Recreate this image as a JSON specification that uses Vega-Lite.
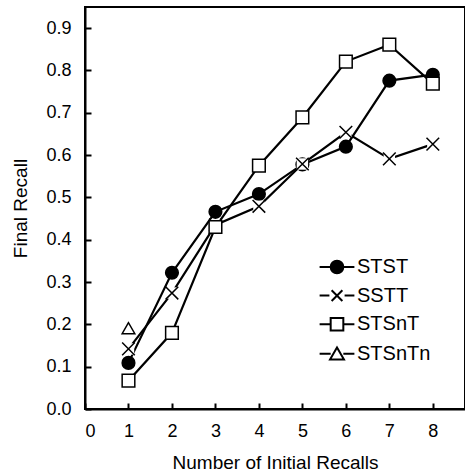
{
  "$schema": "https://vega.github.io/schema/vega-lite/v6.json",
  "width": 380,
  "height": 402,
  "autosize": {"type": "none"},
  "padding": {"left": 85, "top": 7, "right": 0, "bottom": 66},
  "background": "white",
  "config": {
    "view": {"stroke": "black", "strokeWidth": 2},
    "axis": {
      "grid": false,
      "zindex": 1,
      "ticks": true,
      "domainColor": "black",
      "domainWidth": 2,
      "tickColor": "black",
      "tickWidth": 2,
      "tickSize": -6,
      "tickOpacity": 1,
      "labelFont": "Liberation Sans",
      "labelFontSize": 18,
      "labelColor": "black",
      "titleFont": "Liberation Sans",
      "titleFontSize": 19,
      "titleFontWeight": "normal",
      "titleColor": "black"
    }
  },
  "data": {
    "values": [
      {"series": "STST", "n": 1, "recall": 0.109},
      {"series": "STST", "n": 2, "recall": 0.322},
      {"series": "STST", "n": 3, "recall": 0.466},
      {"series": "STST", "n": 4, "recall": 0.508},
      {"series": "STST", "n": 5, "recall": 0.578},
      {"series": "STST", "n": 6, "recall": 0.62},
      {"series": "STST", "n": 7, "recall": 0.776},
      {"series": "STST", "n": 8, "recall": 0.79},
      {"series": "SSTT", "n": 1, "recall": 0.142},
      {"series": "SSTT", "n": 2, "recall": 0.274},
      {"series": "SSTT", "n": 3, "recall": 0.435},
      {"series": "SSTT", "n": 4, "recall": 0.479},
      {"series": "SSTT", "n": 5, "recall": 0.579},
      {"series": "SSTT", "n": 6, "recall": 0.654},
      {"series": "SSTT", "n": 7, "recall": 0.591},
      {"series": "SSTT", "n": 8, "recall": 0.626},
      {"series": "STSnT", "n": 1, "recall": 0.067},
      {"series": "STSnT", "n": 2, "recall": 0.18},
      {"series": "STSnT", "n": 3, "recall": 0.43},
      {"series": "STSnT", "n": 4, "recall": 0.575},
      {"series": "STSnT", "n": 5, "recall": 0.689},
      {"series": "STSnT", "n": 6, "recall": 0.821},
      {"series": "STSnT", "n": 7, "recall": 0.861},
      {"series": "STSnT", "n": 8, "recall": 0.769},
      {"series": "STSnTn", "n": 1, "recall": 0.191}
    ]
  },
  "encoding": {
    "x": {
      "field": "n", "type": "quantitative",
      "scale": {"domain": [0, 8.74], "nice": false, "zero": false},
      "axis": {"values": [0, 1, 2, 3, 4, 5, 6, 7, 8], "title": "Number of Initial Recalls", "labelPadding": 19, "titlePadding": 13}
    },
    "y": {
      "field": "recall", "type": "quantitative",
      "scale": {"domain": [0, 0.95], "nice": false},
      "axis": {"values": [0, 0.1, 0.2, 0.3, 0.4, 0.5, 0.6, 0.7, 0.8, 0.9], "format": ".1f", "title": "Final Recall", "labelPadding": 20, "titlePadding": 15}
    }
  },
  "layer": [
    {
      "mark": {"type": "line", "color": "black", "strokeWidth": 2.2},
      "encoding": {"detail": {"field": "series"}}
    },
    {
      "mark": {"type": "point", "strokeWidth": 2, "opacity": 0, "size": 160},
      "encoding": {
        "shape": {"field": "series", "type": "nominal",
          "scale": {"domain": ["STST", "SSTT", "STSnT", "STSnTn"], "range": [
            "M-2.75,0H2.75M-1,0A1,1,0,1,0,1,0A1,1,0,1,0,-1,0Z",
            "M-2.75,0H-1.2M1.2,0H2.75M-0.85,-0.85L0.85,0.85M-0.85,0.85L0.85,-0.85",
            "M-2.75,0H-1M1,0H2.75M-1,-1H1V1H-1Z",
            "M-2.75,0H-1M1,0H2.75M0,-1L1.1,0.9H-1.1Z"
          ]},
          "legend": {
            "title": null,
            "orient": "none",
            "legendX": 242,
            "legendY": 250,
            "padding": 0,
            "symbolSize": 160,
            "symbolOpacity": 1,
            "symbolStrokeWidth": 2,
            "labelFont": "Liberation Sans",
            "labelFontSize": 20,
            "labelColor": "black",
            "labelOffset": 10,
            "rowPadding": 7.6
          }
        },
        "fill": {"field": "series", "type": "nominal",
          "scale": {"domain": ["STST", "SSTT", "STSnT", "STSnTn"], "range": ["black", "white", "white", "white"]},
          "legend": {
            "title": null,
            "orient": "none",
            "legendX": 242,
            "legendY": 250,
            "padding": 0,
            "symbolSize": 160,
            "symbolOpacity": 1,
            "symbolStrokeWidth": 2,
            "labelFont": "Liberation Sans",
            "labelFontSize": 20,
            "labelColor": "black",
            "labelOffset": 10,
            "rowPadding": 7.6
          }
        },
        "stroke": {"field": "series", "type": "nominal",
          "scale": {"domain": ["STST", "SSTT", "STSnT", "STSnTn"], "range": ["black", "black", "black", "black"]},
          "legend": {
            "title": null,
            "orient": "none",
            "legendX": 242,
            "legendY": 250,
            "padding": 0,
            "symbolSize": 160,
            "symbolOpacity": 1,
            "symbolStrokeWidth": 2,
            "labelFont": "Liberation Sans",
            "labelFontSize": 20,
            "labelColor": "black",
            "labelOffset": 10,
            "rowPadding": 7.6
          }
        }
      }
    },
    {
      "transform": [{"filter": "datum.series === 'STST'"}],
      "mark": {"type": "point", "shape": "circle", "fill": "black", "stroke": "black", "strokeWidth": 1.5, "opacity": 1, "size": 160},
      "encoding": {}
    },
    {
      "transform": [{"filter": "datum.series === 'SSTT'"}],
      "mark": {"type": "point", "shape": "square", "fill": "white", "strokeWidth": 0, "opacity": 1, "size": 130},
      "encoding": {}
    },
    {
      "transform": [{"filter": "datum.series === 'SSTT'"}],
      "mark": {"type": "point", "shape": "M-1,-1L1,1M-1,1L1,-1", "fill": "white", "stroke": "black", "strokeWidth": 1.5, "opacity": 1, "size": 160},
      "encoding": {}
    },
    {
      "transform": [{"filter": "datum.series === 'STSnT'"}],
      "mark": {"type": "point", "shape": "square", "fill": "white", "stroke": "black", "strokeWidth": 1.5, "opacity": 1, "size": 160},
      "encoding": {}
    },
    {
      "transform": [{"filter": "datum.series === 'STSnTn'"}],
      "mark": {"type": "point", "shape": "triangle-up", "fill": "white", "stroke": "black", "strokeWidth": 1.5, "opacity": 1, "size": 160},
      "encoding": {}
    }
  ]
}
